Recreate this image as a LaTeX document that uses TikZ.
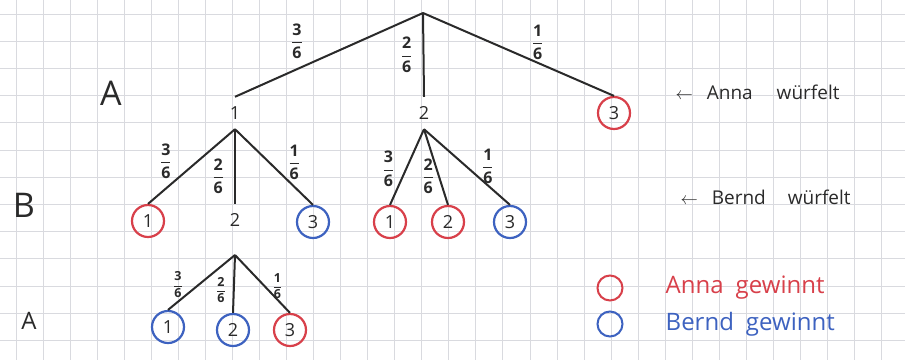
\documentclass[tikz,border=0pt]{standalone}
\usepackage{amsmath}
\usepackage{fontspec}
\setmainfont{Open Sans}
\usetikzlibrary{arrows.meta,positioning}
\definecolor{pencil}{HTML}{2A2A2A}
\definecolor{annared}{HTML}{D8404A}
\definecolor{berndblue}{HTML}{3D62C0}
\definecolor{gridline}{HTML}{D9DADF}
\tikzset{
  paper/.style={draw=gridline, line width=0.9pt},
  branch/.style={draw=pencil, line width=2pt},
  outcome/.style={circle, minimum size=32pt, inner sep=0pt, text=pencil,
                  font=\fontsize{18}{18}\selectfont},
  annawins/.style={outcome, draw=annared, line width=2.2pt},
  berndwins/.style={outcome, draw=berndblue, line width=2.2pt},
  % branch probabilities sit beside the branch, no box of their own
  prob/.style={font=\fontsize{16}{16}\selectfont\bfseries, text=pencil, inner sep=0pt},
  smallprob/.style={prob, font=\fontsize{12.5}{12.5}\selectfont\bfseries},
  level/.style={font=\fontsize{34}{34}\selectfont, text=pencil},
  note/.style={font=\fontsize{19}{19}\selectfont, text=pencil, anchor=west},
  key/.style={circle, minimum size=25pt, inner sep=0pt, line width=2pt},
  keytext/.style={font=\fontsize{24}{24}\selectfont, inner sep=0pt},
}
\newcommand{\chance}[1]{$\dfrac{\mbox{#1}}{\mbox{6}}$}

\begin{document}
\begin{tikzpicture}[x=1pt, y=-1pt]
  \useasboundingbox (0,0) rectangle (905,360);

  % --- squared paper --------------------------------------------------------
  \fill[white] (0,0) rectangle (905,360);
  \foreach \i in {0,...,33} {\draw[paper] ({16+27.05*\i},0) -- ++(0,360);}
  \foreach \j in {0,...,12} {\draw[paper] (0,{14+27.2*\j}) -- ++(905,0);}

  % --- outcomes, one row per throw -----------------------------------------
  \coordinate (root) at (423,13);
  \node[outcome]   (a1) at (235,113) {1};
  \node[outcome]   (a2) at (424,113) {2};
  \node[annawins]  (a3) at (614,113) {3};

  \node[annawins]  (b11) at (148,221) {1};
  \node[outcome]   (b12) at (235,220) {2};
  \node[berndwins] (b13) at (313,222) {3};
  \node[annawins]  (b21) at (390,222) {1};
  \node[annawins]  (b22) at (448,222) {2};
  \node[berndwins] (b23) at (510,222) {3};

  % Anna throws again only after a 2 from Bernd
  \coordinate (fork) at (235,255);
  \node[berndwins] (c1) at (168,327) {1};
  \node[berndwins] (c2) at (233,330) {2};
  \node[annawins]  (c3) at (290,330) {3};

  % --- branches -------------------------------------------------------------
  \draw[branch] (root) -- node[prob, pos=.67, above=9pt] {\chance{3}} (a1.north);
  \draw[branch] (root) -- node[prob, left=10pt] {\chance{2}} (a2.north);
  \draw[branch] (root) -- node[prob, pos=.6, above=2pt] {\chance{1}} (a3.north);

  \draw[branch] (a1.south) -- node[prob, pos=.43, left=25pt] {\chance{3}} (b11.north);
  \draw[branch] (a1.south) -- node[prob, pos=.63, left=10pt] {\chance{2}} (b12.north);
  \draw[branch] (a1.south) -- node[prob, pos=.44, right=18pt] {\chance{1}} (b13.north);

  \draw[branch] (a2.south) -- node[prob, pos=.52, left=11pt] {\chance{3}} (b21.north);
  \draw[branch] (a2.south) -- node[prob, pos=.62, left=4pt] {\chance{2}} (b22.north);
  \draw[branch] (a2.south) -- node[prob, pos=.49, right=15pt] {\chance{1}} (b23.north);

  \draw[branch] (fork) -- node[smallprob, pos=.54, left=15pt] {\chance{3}} (c1.north);
  \draw[branch] (fork) -- node[smallprob, pos=.6, left=7pt] {\chance{2}} (c2.north);
  \draw[branch] (fork) -- node[smallprob, pos=.54, right=7pt] {\chance{1}} (c3.north);

  % --- who throws -----------------------------------------------------------
  \node[level] (lvA) at (111,93) {A};
  \node[level] (lvB) at (24,205) {B};
  \node[level, font=\fontsize{24}{24}\selectfont] (lvC) at (29,321) {A};

  \node[note] (annathrows)  at (672,92)  {$\leftarrow$\hspace{14pt}Anna\hspace{24pt}würfelt};
  \node[note] (berndthrows) at (677,197) {$\leftarrow$\hspace{14pt}Bernd\hspace{22pt}würfelt};

  % --- key ------------------------------------------------------------------
  \node[key, draw=annared]   (keyA) at (610,288) {};
  \node[key, draw=berndblue] (keyB) at (610,324) {};
  \node[keytext, text=annared, right=42pt of keyA]   {Anna\hspace{12pt}gewinnt};
  \node[keytext, text=berndblue, right=42pt of keyB] {Bernd\hspace{12pt}gewinnt};

\end{tikzpicture}
\end{document}
